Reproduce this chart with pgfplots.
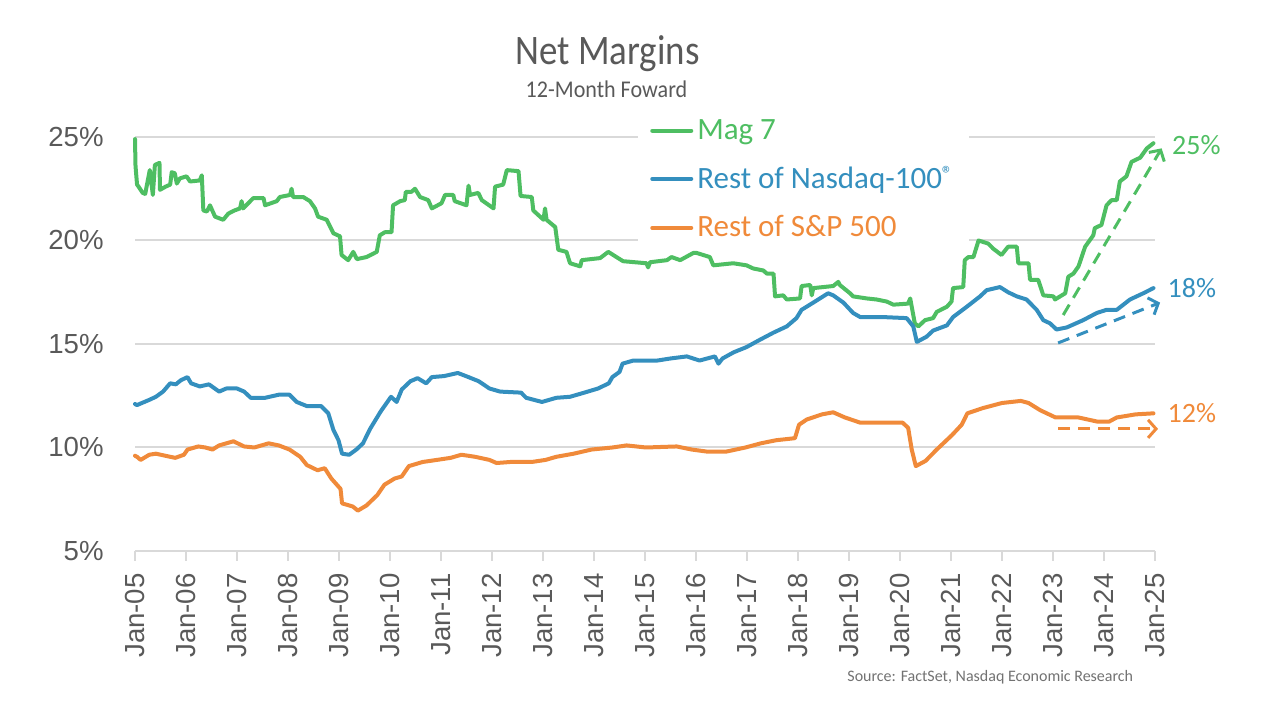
\documentclass[border=0pt]{standalone}
\usepackage{pgfplots}
\pgfplotsset{compat=1.18}
\usepackage{pgfplotstable}
\usetikzlibrary{arrows.meta}
\usepackage{fontspec}
\setmainfont{Carlito}
\newfontfamily\arial{Liberation Sans}
\newfontfamily\titlefont{Carlito}[FakeStretch=0.88]
\newfontfamily\subfont{Carlito}[FakeStretch=0.92]
\definecolor{mgreen}{RGB}{78,190,98}
\definecolor{mblue}{RGB}{52,143,190}
\definecolor{morange}{RGB}{240,138,58}
\definecolor{txtgray}{RGB}{89,89,89}
\definecolor{gridgray}{RGB}{217,217,217}

\pgfplotstableread{
x y
2005.00 24.90
2005.01 23.60
2005.04 22.70
2005.07 22.60
2005.15 22.30
2005.20 22.25
2005.29 23.40
2005.35 22.20
2005.39 23.65
2005.48 23.75
2005.49 22.45
2005.60 22.60
2005.69 22.70
2005.72 23.30
2005.78 23.25
2005.82 22.75
2005.88 23.00
2006.01 23.10
2006.08 22.85
2006.27 22.90
2006.31 23.15
2006.34 21.45
2006.41 21.40
2006.47 21.70
2006.57 21.15
2006.73 21.00
2006.83 21.30
2006.95 21.45
2007.06 21.55
2007.09 21.90
2007.12 21.55
2007.32 22.05
2007.52 22.05
2007.55 21.70
2007.78 21.90
2007.84 22.10
2008.04 22.20
2008.07 22.50
2008.10 22.10
2008.30 22.10
2008.43 21.90
2008.53 21.55
2008.59 21.15
2008.76 21.00
2008.89 20.35
2009.02 20.20
2009.05 19.30
2009.18 19.05
2009.28 19.45
2009.35 19.10
2009.54 19.20
2009.74 19.45
2009.80 20.25
2009.90 20.40
2010.03 20.40
2010.06 21.70
2010.20 21.90
2010.29 21.95
2010.31 22.35
2010.42 22.35
2010.49 22.50
2010.59 22.10
2010.75 21.95
2010.82 21.55
2011.01 21.80
2011.08 22.20
2011.24 22.20
2011.27 21.90
2011.50 21.70
2011.54 22.65
2011.57 22.20
2011.73 22.30
2011.80 21.95
2012.03 21.55
2012.06 22.60
2012.22 22.70
2012.29 23.40
2012.52 23.35
2012.56 22.15
2012.78 22.10
2012.81 21.45
2013.01 21.00
2013.04 21.55
2013.07 21.00
2013.24 20.65
2013.30 19.55
2013.46 19.45
2013.53 18.90
2013.73 18.75
2013.76 19.05
2014.12 19.15
2014.28 19.45
2014.44 19.20
2014.57 19.00
2015.03 18.90
2015.06 18.70
2015.10 18.95
2015.43 19.05
2015.52 19.20
2015.69 19.05
2015.95 19.40
2016.01 19.40
2016.27 19.20
2016.34 18.80
2016.73 18.90
2016.99 18.80
2017.12 18.65
2017.32 18.55
2017.39 18.40
2017.52 18.40
2017.55 17.30
2017.71 17.35
2017.78 17.15
2018.04 17.20
2018.07 17.80
2018.24 17.85
2018.27 17.35
2018.30 17.70
2018.69 17.80
2018.79 18.00
2018.82 17.85
2019.02 17.45
2019.08 17.30
2019.35 17.20
2019.54 17.15
2019.74 17.05
2019.87 16.90
2020.16 16.95
2020.20 17.20
2020.29 16.00
2020.36 15.85
2020.49 16.15
2020.65 16.25
2020.72 16.55
2020.92 16.80
2021.01 17.05
2021.04 17.70
2021.24 17.75
2021.27 19.05
2021.34 19.20
2021.44 19.20
2021.54 20.00
2021.73 19.85
2021.83 19.60
2021.99 19.30
2022.12 19.70
2022.29 19.70
2022.32 18.90
2022.52 18.90
2022.55 18.10
2022.71 18.10
2022.81 17.35
2023.01 17.30
2023.04 17.15
2023.24 17.45
2023.30 18.25
2023.40 18.40
2023.50 18.75
2023.63 19.70
2023.79 20.25
2023.82 20.60
2023.95 20.75
2024.05 21.70
2024.15 21.95
2024.25 21.95
2024.31 22.85
2024.44 23.10
2024.54 23.80
2024.71 24.00
2024.84 24.45
2024.97 24.70
}\magseven

\pgfplotstableread{
x y
2005.00 12.10
2005.04 12.05
2005.28 12.30
2005.41 12.45
2005.55 12.70
2005.69 13.10
2005.80 13.05
2005.90 13.25
2006.03 13.40
2006.10 13.10
2006.27 12.95
2006.45 13.05
2006.65 12.70
2006.79 12.85
2007.00 12.85
2007.14 12.70
2007.27 12.40
2007.55 12.40
2007.82 12.55
2008.03 12.55
2008.17 12.20
2008.37 12.00
2008.65 12.00
2008.79 11.65
2008.89 10.85
2008.99 10.35
2009.06 9.70
2009.20 9.65
2009.34 9.90
2009.47 10.20
2009.61 10.90
2009.82 11.75
2010.02 12.45
2010.13 12.20
2010.23 12.80
2010.40 13.20
2010.54 13.35
2010.71 13.10
2010.82 13.40
2011.06 13.45
2011.33 13.60
2011.54 13.40
2011.74 13.20
2011.95 12.85
2012.16 12.70
2012.57 12.65
2012.67 12.40
2012.98 12.20
2013.26 12.40
2013.53 12.45
2013.81 12.65
2014.08 12.85
2014.29 13.10
2014.36 13.40
2014.50 13.65
2014.56 14.05
2014.77 14.20
2015.24 14.20
2015.50 14.30
2015.82 14.40
2016.07 14.20
2016.37 14.40
2016.44 14.05
2016.52 14.30
2016.74 14.60
2016.99 14.85
2017.25 15.20
2017.52 15.55
2017.78 15.85
2017.97 16.25
2018.07 16.65
2018.30 17.00
2018.59 17.45
2018.69 17.35
2018.89 17.00
2019.08 16.50
2019.22 16.30
2019.67 16.30
2020.13 16.25
2020.26 15.85
2020.33 15.10
2020.52 15.35
2020.65 15.65
2020.92 15.90
2021.04 16.30
2021.31 16.80
2021.57 17.30
2021.70 17.60
2021.96 17.75
2022.12 17.50
2022.29 17.30
2022.48 17.15
2022.68 16.65
2022.81 16.15
2022.94 16.00
2023.07 15.70
2023.27 15.80
2023.59 16.15
2023.86 16.50
2024.05 16.65
2024.25 16.65
2024.51 17.15
2024.64 17.30
2024.77 17.45
2024.97 17.70
}\restndx

\pgfplotstableread{
x y
2005.00 9.60
2005.04 9.55
2005.11 9.40
2005.28 9.65
2005.41 9.70
2005.69 9.55
2005.79 9.50
2005.96 9.65
2006.03 9.90
2006.24 10.05
2006.38 10.00
2006.52 9.90
2006.65 10.10
2006.93 10.30
2007.14 10.05
2007.34 10.00
2007.62 10.20
2007.82 10.10
2008.03 9.90
2008.24 9.55
2008.37 9.15
2008.58 8.90
2008.72 9.00
2008.85 8.50
2009.03 8.00
2009.06 7.30
2009.27 7.15
2009.37 6.95
2009.54 7.20
2009.75 7.70
2009.89 8.20
2010.09 8.50
2010.23 8.60
2010.37 9.10
2010.64 9.30
2010.92 9.40
2011.19 9.50
2011.40 9.65
2011.67 9.55
2011.95 9.40
2012.09 9.25
2012.36 9.30
2012.78 9.30
2013.05 9.40
2013.26 9.55
2013.60 9.70
2013.95 9.90
2014.36 10.00
2014.64 10.10
2015.02 10.00
2015.62 10.05
2015.92 9.90
2016.22 9.80
2016.59 9.80
2016.97 10.00
2017.27 10.20
2017.57 10.35
2017.94 10.45
2018.02 11.10
2018.17 11.35
2018.47 11.60
2018.69 11.70
2018.92 11.45
2019.22 11.20
2019.67 11.20
2020.05 11.20
2020.16 10.95
2020.23 9.90
2020.31 9.10
2020.50 9.35
2020.72 9.90
2021.02 10.60
2021.21 11.10
2021.32 11.65
2021.62 11.90
2022.00 12.15
2022.37 12.25
2022.52 12.15
2022.75 11.80
2023.05 11.45
2023.50 11.45
2023.87 11.25
2024.10 11.25
2024.25 11.45
2024.62 11.60
2024.97 11.65
}\restspx

\begin{document}
\begin{tikzpicture}
\path[use as bounding box] (0pt,0pt) rectangle (637pt,355pt);
\node[anchor=base, text=txtgray, font=\titlefont\fontsize{21}{24}\selectfont, inner sep=0pt] at (303.75pt,322.5pt) {Net Margins};
\node[anchor=base, text=txtgray, font=\subfont\fontsize{12}{14}\selectfont, inner sep=0pt] at (303.25pt,306pt) {12-Month Foward};
\node[anchor=base west, text=txtgray!85, font=\fontsize{8}{10}\selectfont, inner sep=0pt] at (423.5pt,14pt) {Source: FactSet, Nasdaq Economic Research};
\begin{axis}[
  at={(67.5pt,79.5pt)}, anchor=south west,
  scale only axis, width=510pt, height=207pt,
  xmin=2005, xmax=2025, ymin=5, ymax=25,
  clip=false,
  axis lines*=left,
  y axis line style={draw=none},
  x axis line style={gridgray, line width=1pt},
  xtick={2005,2006,...,2025},
  xticklabels={Jan-05,Jan-06,Jan-07,Jan-08,Jan-09,Jan-10,Jan-11,Jan-12,Jan-13,Jan-14,Jan-15,Jan-16,Jan-17,Jan-18,Jan-19,Jan-20,Jan-21,Jan-22,Jan-23,Jan-24,Jan-25},
  ytick={5,10,15,20,25},
  yticklabels={5\%,10\%,15\%,20\%,25\%},
  ymajorgrids,
  grid style={gridgray, line width=1pt},
  tick align=outside,
  major tick length=5pt,
  xtick style={gridgray, line width=1pt},
  ytick style={draw=none},
  tick label style={font=\arial\fontsize{13.8}{16}\selectfont, text=txtgray},
  xticklabel style={rotate=90, anchor=east, inner sep=0pt, xshift=-6pt},
  yticklabel style={anchor=east, inner sep=0pt, xshift=-10.5pt},
  legend style={at={(rel axis cs:0.493,1.068)}, anchor=north west, draw=none, fill=white,
    inner xsep=6pt, inner ysep=3pt, font=\fontsize{15.5}{18}\selectfont, row sep=8pt,
    cells={anchor=west}},
  legend image code/.code={\draw[line width=2pt] (0pt,0pt) -- (19.5pt,0pt);},
  every axis plot/.append style={line width=2pt, line join=round, line cap=round},
]
\addplot[mgreen] table[x=x,y=y] {\magseven};
\addlegendentry{\textcolor{mgreen}{Mag 7}}
\addplot[mblue] table[x=x,y=y] {\restndx};
\addlegendentry{\textcolor{mblue}{Rest of Nasdaq-100\raisebox{0.5ex}{\fontsize{11}{11}\selectfont ®}}}
\addplot[morange] table[x=x,y=y] {\restspx};
\addlegendentry{\textcolor{morange}{Rest of S\&P 500}}

\draw[mgreen, line width=1.5pt, dash pattern=on 6pt off 4pt, -{Straight Barb[length=4pt,width=9pt,line width=1.5pt]}] (axis cs:2023.2,16.4) -- (axis cs:2025.13,24.45);
\draw[mblue, line width=1.5pt, dash pattern=on 6pt off 4pt, -{Straight Barb[length=4pt,width=9pt,line width=1.5pt]}] (axis cs:2023.1,15.05) -- (axis cs:2025.1,17.0);
\draw[morange, line width=1.5pt, dash pattern=on 6pt off 4pt, -{Straight Barb[length=4pt,width=9pt,line width=1.5pt]}] (axis cs:2023.1,10.9) -- (axis cs:2025.06,10.9);

\node[anchor=west, text=mgreen, font=\fontsize{14}{16}\selectfont, inner sep=0pt] at (axis cs:2025.33,24.61) {25\%};
\node[anchor=west, text=mblue, font=\fontsize{14}{16}\selectfont, inner sep=0pt] at (axis cs:2025.24,17.71) {18\%};
\node[anchor=west, text=morange, font=\fontsize{14}{16}\selectfont, inner sep=0pt] at (axis cs:2025.24,11.67) {12\%};
\end{axis}
\end{tikzpicture}
\end{document}
